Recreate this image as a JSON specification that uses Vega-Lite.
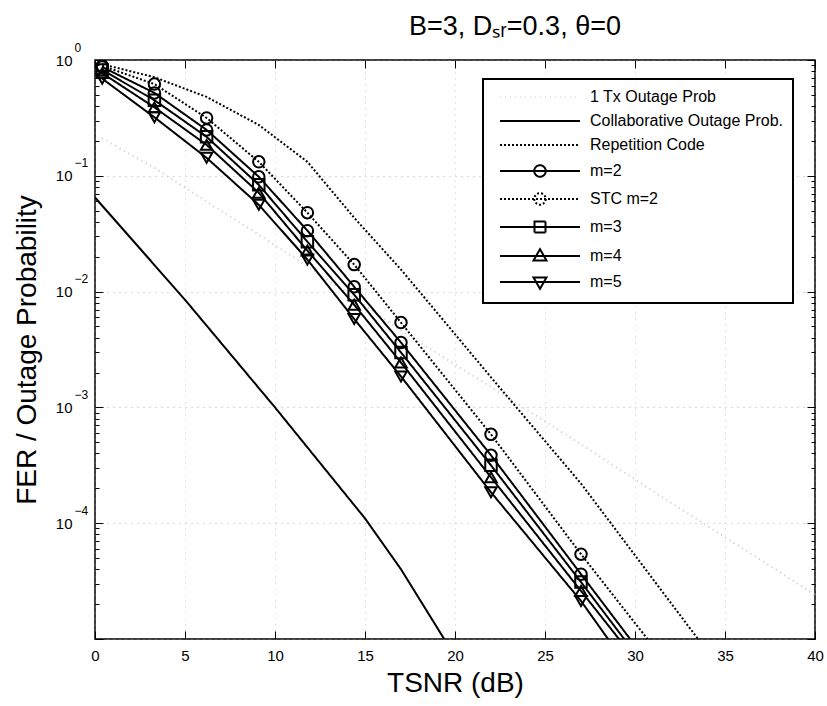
{
  "$schema": "https://vega.github.io/schema/vega-lite/v6.json",
  "width": 720,
  "height": 579,
  "autosize": {"type": "none"},
  "padding": {"left": 95, "top": 60, "right": 12, "bottom": 67},
  "background": "white",
  "title": {"text": "B=3, Dₛᵣ=0.3, θ=0", "font": "Liberation Sans", "fontSize": 27, "fontWeight": "normal", "color": "black", "anchor": "middle", "offset": 0, "dx": 60},
  "config": {
    "view": {"stroke": "black", "strokeWidth": 1.5},
    "font": "Liberation Sans",
    "axis": {"labelFont": "Liberation Sans", "labelColor": "black", "labelFontSize": 15, "titleFont": "Liberation Sans", "titleFontWeight": "normal", "titleColor": "black", "titleFontSize": 28, "tickColor": "black", "domain": false, "labelOverlap": false, "labelFlush": false},
    "legend": {"strokeWidth": 2}
  },
  "resolve": {"axis": {"x": "independent", "y": "independent"}},
  "data": {"values": [
    {"series": "1 Tx Outage Prob", "x": 0.4, "y": 0.21},
    {"series": "1 Tx Outage Prob", "x": 3.3, "y": 0.117},
    {"series": "1 Tx Outage Prob", "x": 6.2, "y": 0.06},
    {"series": "1 Tx Outage Prob", "x": 9.1, "y": 0.031},
    {"series": "1 Tx Outage Prob", "x": 11.8, "y": 0.0165},
    {"series": "1 Tx Outage Prob", "x": 14.4, "y": 0.0088},
    {"series": "1 Tx Outage Prob", "x": 17, "y": 0.0046},
    {"series": "1 Tx Outage Prob", "x": 22, "y": 0.0015},
    {"series": "1 Tx Outage Prob", "x": 27, "y": 0.00048},
    {"series": "1 Tx Outage Prob", "x": 32, "y": 0.00015},
    {"series": "1 Tx Outage Prob", "x": 37, "y": 0.000048},
    {"series": "1 Tx Outage Prob", "x": 40, "y": 0.000024},
    {"series": "Collaborative Outage Prob.", "x": 0, "y": 0.065},
    {"series": "Collaborative Outage Prob.", "x": 5, "y": 0.0085},
    {"series": "Collaborative Outage Prob.", "x": 10, "y": 0.001},
    {"series": "Collaborative Outage Prob.", "x": 15, "y": 0.00011},
    {"series": "Collaborative Outage Prob.", "x": 17, "y": 0.00004},
    {"series": "Collaborative Outage Prob.", "x": 19.4, "y": 0.00001},
    {"series": "Collaborative Outage Prob.", "x": 20, "y": 0.000006},
    {"series": "Repetition Code", "x": 0.4, "y": 0.92},
    {"series": "Repetition Code", "x": 3.3, "y": 0.71},
    {"series": "Repetition Code", "x": 6.2, "y": 0.48},
    {"series": "Repetition Code", "x": 9.1, "y": 0.275},
    {"series": "Repetition Code", "x": 11.8, "y": 0.132},
    {"series": "Repetition Code", "x": 14.4, "y": 0.0434},
    {"series": "Repetition Code", "x": 17, "y": 0.0155},
    {"series": "Repetition Code", "x": 22, "y": 0.00182},
    {"series": "Repetition Code", "x": 27, "y": 0.00022},
    {"series": "Repetition Code", "x": 32, "y": 0.0000204},
    {"series": "Repetition Code", "x": 37, "y": 0.0000019},
    {"series": "m=2", "x": 0.4, "y": 0.87},
    {"series": "m=2", "x": 3.3, "y": 0.52},
    {"series": "m=2", "x": 6.2, "y": 0.249},
    {"series": "m=2", "x": 9.1, "y": 0.098},
    {"series": "m=2", "x": 11.8, "y": 0.0336},
    {"series": "m=2", "x": 14.4, "y": 0.011},
    {"series": "m=2", "x": 17, "y": 0.00363},
    {"series": "m=2", "x": 22, "y": 0.000386},
    {"series": "m=2", "x": 27, "y": 0.0000363},
    {"series": "m=2", "x": 32, "y": 0.00000342},
    {"series": "STC m=2", "x": 0.4, "y": 0.89},
    {"series": "STC m=2", "x": 3.3, "y": 0.62},
    {"series": "STC m=2", "x": 6.2, "y": 0.316},
    {"series": "STC m=2", "x": 9.1, "y": 0.132},
    {"series": "STC m=2", "x": 11.8, "y": 0.048},
    {"series": "STC m=2", "x": 14.4, "y": 0.0171},
    {"series": "STC m=2", "x": 17, "y": 0.0054},
    {"series": "STC m=2", "x": 22, "y": 0.000585},
    {"series": "STC m=2", "x": 27, "y": 0.000054},
    {"series": "STC m=2", "x": 32, "y": 0.0000055},
    {"series": "m=3", "x": 0.4, "y": 0.82},
    {"series": "m=3", "x": 3.3, "y": 0.45},
    {"series": "m=3", "x": 6.2, "y": 0.217},
    {"series": "m=3", "x": 9.1, "y": 0.0836},
    {"series": "m=3", "x": 11.8, "y": 0.027},
    {"series": "m=3", "x": 14.4, "y": 0.0094},
    {"series": "m=3", "x": 17, "y": 0.00298},
    {"series": "m=3", "x": 22, "y": 0.000316},
    {"series": "m=3", "x": 27, "y": 0.000031},
    {"series": "m=3", "x": 32, "y": 0.00000293},
    {"series": "m=4", "x": 0.4, "y": 0.77},
    {"series": "m=4", "x": 3.3, "y": 0.39},
    {"series": "m=4", "x": 6.2, "y": 0.185},
    {"series": "m=4", "x": 9.1, "y": 0.0714},
    {"series": "m=4", "x": 11.8, "y": 0.0226},
    {"series": "m=4", "x": 14.4, "y": 0.0077},
    {"series": "m=4", "x": 17, "y": 0.00244},
    {"series": "m=4", "x": 22, "y": 0.000249},
    {"series": "m=4", "x": 27, "y": 0.000026},
    {"series": "m=4", "x": 32, "y": 0.0000027},
    {"series": "m=5", "x": 0.4, "y": 0.69},
    {"series": "m=5", "x": 3.3, "y": 0.32},
    {"series": "m=5", "x": 6.2, "y": 0.143},
    {"series": "m=5", "x": 9.1, "y": 0.0562},
    {"series": "m=5", "x": 11.8, "y": 0.0189},
    {"series": "m=5", "x": 14.4, "y": 0.0058},
    {"series": "m=5", "x": 17, "y": 0.00185},
    {"series": "m=5", "x": 22, "y": 0.000185},
    {"series": "m=5", "x": 27, "y": 0.0000213},
    {"series": "m=5", "x": 32, "y": 0.00000172}
  ]},
  "layer": [
    {
      "mark": {"type": "line", "clip": true, "strokeWidth": 2},
      "encoding": {
        "x": {"field": "x", "type": "quantitative", "scale": {"domain": [0, 40], "nice": false},
          "axis": {"orient": "bottom", "values": [0, 5, 10, 15, 20, 25, 30, 35, 40], "title": "TSNR (dB)", "tickSize": -8, "labelPadding": 17, "titlePadding": 6, "grid": true, "gridColor": "#999999", "gridDash": [1, 5], "gridOpacity": 0.5}},
        "y": {"field": "y", "type": "quantitative", "scale": {"type": "log", "domain": [0.00001, 1], "nice": false},
          "axis": {"orient": "left", "title": "FER / Outage Probability", "titlePadding": 14,
            "values": [0.00001, 0.00002, 0.00003, 0.00004, 0.00005, 0.00006, 0.00007, 0.00008, 0.00009, 0.0001, 0.0002, 0.0003, 0.0004, 0.0005, 0.0006, 0.0007, 0.0008, 0.0009, 0.001, 0.002, 0.003, 0.004, 0.005, 0.006, 0.007, 0.008, 0.009, 0.01, 0.02, 0.03, 0.04, 0.05, 0.06, 0.07, 0.08, 0.09, 0.1, 0.2, 0.3, 0.4, 0.5, 0.6, 0.7, 0.8, 0.9, 1],
            "labelExpr": "datum.value == 1 || datum.value == 0.1 || datum.value == 0.01 || datum.value == 0.001 || datum.value == 0.0001 ? '10' : ''",
            "tickSize": {"condition": {"test": "datum.value == 1 || datum.value == 0.1 || datum.value == 0.01 || datum.value == 0.001 || datum.value == 0.0001 || datum.value == 0.00001", "value": -8}, "value": -4},
            "labelPadding": 31,
            "grid": true, "gridColor": "#999999", "gridDash": [1, 5],
            "gridOpacity": {"condition": {"test": "datum.value == 1 || datum.value == 0.1 || datum.value == 0.01 || datum.value == 0.001 || datum.value == 0.0001 || datum.value == 0.00001", "value": 0.7}, "value": 0}}},
        "stroke": {"condition": {"test": "datum.series == '1 Tx Outage Prob'", "value": "#c8c8c8"}, "value": "black"},
        "strokeDash": {"field": "series", "type": "nominal",
          "scale": {"domain": ["1 Tx Outage Prob", "Collaborative Outage Prob.", "Repetition Code", "m=2", "STC m=2", "m=3", "m=4", "m=5"],
                    "range": [[1, 4], [1, 0], [2, 2], [1, 0], [2, 2], [1, 0], [1, 0], [1, 0]]},
          "legend": {"title": null, "orient": "none", "legendX": 388, "legendY": 19,
            "padding": 10, "strokeColor": "black", "fillColor": "white", "cornerRadius": 0,
            "rowPadding": 8, "labelFont": "Liberation Sans", "labelFontSize": 16, "labelColor": "black", "labelLimit": 400,
            "symbolSize": 100, "symbolOffset": 39, "labelOffset": 42, "symbolStrokeWidth": 2,
            "symbolType": {"expr": "datum.value == 'm=2' || datum.value == 'STC m=2' ? 'M-8,0H8M1.15,0A1.15,1.15,0,1,1,-1.15,0A1.15,1.15,0,1,1,1.15,0' : datum.value == 'm=3' ? 'M-8,0H8M-1.1,-1.1H1.1V1.1H-1.1Z' : datum.value == 'm=4' ? 'M-8,0H8M0,-1.35L1.3,0.9L-1.3,0.9Z' : datum.value == 'm=5' ? 'M-8,0H8M0,1.35L1.3,-0.9L-1.3,-0.9Z' : 'M-8,0H8'"},
            "symbolStrokeColor": {"expr": "datum.value == '1 Tx Outage Prob' ? '#e6e6e6' : 'black'"},
            "symbolFillColor": "transparent"}}
      }
    },
    {
      "transform": [{"filter": {"field": "series", "oneOf": ["m=2", "STC m=2", "m=3", "m=4", "m=5"]}}],
      "mark": {"type": "point", "filled": false, "clip": true, "size": 132, "strokeWidth": 2, "color": "black", "opacity": 1},
      "encoding": {
        "x": {"field": "x", "type": "quantitative",
          "axis": {"orient": "top", "values": [0, 5, 10, 15, 20, 25, 30, 35, 40], "labels": false, "title": null, "tickSize": -8, "grid": false}},
        "y": {"field": "y", "type": "quantitative",
          "axis": {"orient": "right", "labels": false, "title": null, "grid": false,
            "values": [0.00001, 0.00002, 0.00003, 0.00004, 0.00005, 0.00006, 0.00007, 0.00008, 0.00009, 0.0001, 0.0002, 0.0003, 0.0004, 0.0005, 0.0006, 0.0007, 0.0008, 0.0009, 0.001, 0.002, 0.003, 0.004, 0.005, 0.006, 0.007, 0.008, 0.009, 0.01, 0.02, 0.03, 0.04, 0.05, 0.06, 0.07, 0.08, 0.09, 0.1, 0.2, 0.3, 0.4, 0.5, 0.6, 0.7, 0.8, 0.9, 1],
            "tickSize": {"condition": {"test": "datum.value == 1 || datum.value == 0.1 || datum.value == 0.01 || datum.value == 0.001 || datum.value == 0.0001 || datum.value == 0.00001", "value": -8}, "value": -4}}},
        "shape": {"field": "series", "type": "nominal", "legend": null,
          "scale": {"domain": ["m=2", "STC m=2", "m=3", "m=4", "m=5"], "range": ["circle", "circle", "square", "triangle-up", "triangle-down"]}}
      }
    },
    {
      "mark": {"type": "point", "opacity": 0, "clip": true},
      "encoding": {
        "x": {"field": "x", "type": "quantitative", "axis": null},
        "y": {"field": "y", "type": "quantitative",
          "axis": {"orient": "left", "title": null, "grid": false, "ticks": false,
            "values": [0.0001, 0.001, 0.01, 0.1, 1],
            "labelExpr": "datum.value == 1 ? '0' : datum.value == 0.1 ? '−1' : datum.value == 0.01 ? '−2' : datum.value == 0.001 ? '−3' : datum.value == 0.0001 ? '−4' : ''",
            "labelFontSize": 12, "labelAlign": "left", "labelPadding": 21, "labelOffset": -13}}
      }
    }
  ]
}
